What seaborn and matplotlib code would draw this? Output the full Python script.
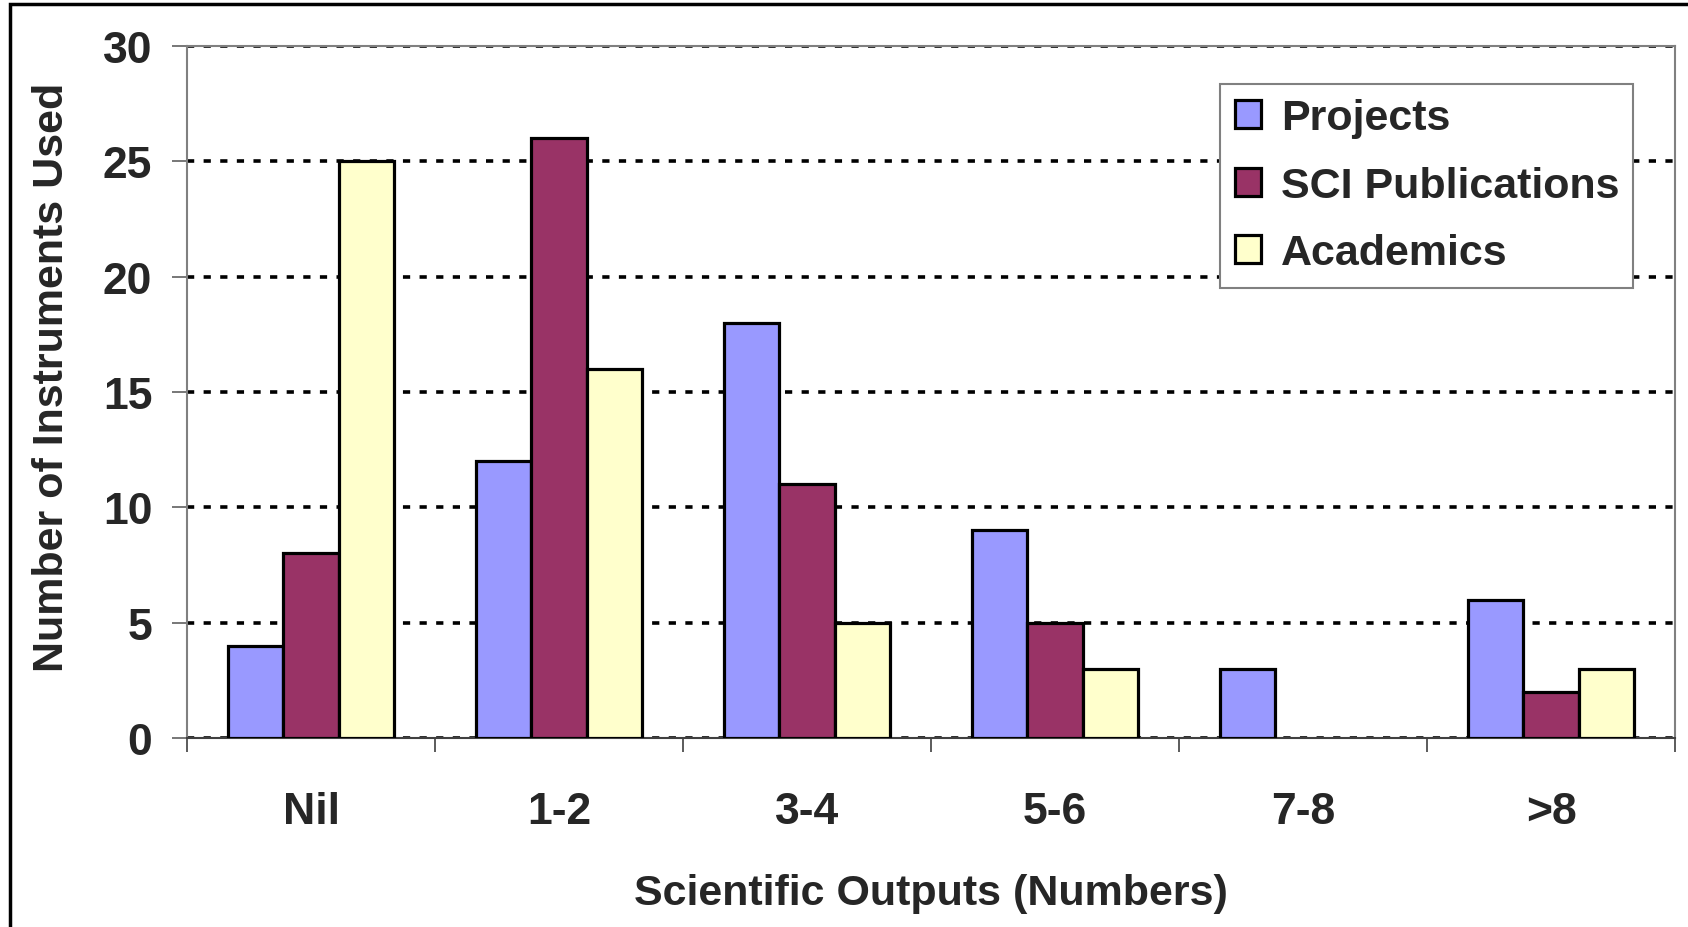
import matplotlib
matplotlib.use("Agg")
import matplotlib.pyplot as plt
from matplotlib.patches import Rectangle
import seaborn as sns
import pandas as pd

categories = ["Nil", "1-2", "3-4", "5-6", "7-8", ">8"]
projects = [4, 12, 18, 9, 3, 6]
sci_publications = [8, 26, 11, 5, 0, 2]
academics = [25, 16, 5, 3, 0, 3]
series_names = ["Projects", "SCI Publications", "Academics"]
colors = ["#9999FF", "#993366", "#FFFFCC"]
y_ticks = [0, 5, 10, 15, 20, 25, 30]

rows = []
for name, vals in zip(series_names, [projects, sci_publications, academics]):
    for cat, v in zip(categories, vals):
        rows.append({"category": cat, "series": name, "value": v})
df = pd.DataFrame(rows)
# zero bars would leave a black edge line on the axis, so drop them from drawing
plot_df = df[df["value"] > 0]

sns.set_style("white")
plt.rcParams["font.family"] = ["Liberation Sans", "DejaVu Sans"]
plt.rcParams["font.weight"] = "bold"

fig = plt.figure(figsize=(16.88, 9.28), dpi=100)
ax = fig.add_axes([187 / 1688, 1 - 739 / 928, (1675 - 187) / 1688, (739 - 47) / 928])

sns.barplot(data=plot_df, x="category", y="value", hue="series", order=categories,
            hue_order=series_names, palette=colors, width=2 / 3, gap=0,
            edgecolor="black", linewidth=2.3, saturation=1, ax=ax, zorder=3)

ax.set_xlim(-0.5, len(categories) - 0.5)
ax.set_ylim(0, 30)
ax.set_yticks(y_ticks)
ax.yaxis.grid(True, color="black", linestyle=(0, (2, 2.6)), linewidth=2.6)
ax.set_axisbelow(True)

for side in ["left", "right", "top"]:
    ax.spines[side].set_color("#808080")
    ax.spines[side].set_linewidth(1.5)
ax.spines["bottom"].set_color("#404040")
ax.spines["bottom"].set_linewidth(1.5)

ax.set_xticks([i - 0.5 for i in range(len(categories) + 1)], minor=True)
ax.tick_params(axis="x", which="minor", length=10, width=1.2, color="#404040", direction="out")
ax.tick_params(axis="x", which="major", length=0, pad=38, labelsize=32)
ax.tick_params(axis="y", length=11, width=1.2, color="#606060", direction="out", pad=14, labelsize=32)
ax.tick_params(left=True, bottom=False, which="major")
ax.tick_params(axis="x", which="minor", bottom=True)
for lbl in ax.get_xticklabels() + ax.get_yticklabels():
    lbl.set_fontweight("bold")

ax.set_xlabel("Scientific Outputs (Numbers)", fontsize=31, fontweight="bold", labelpad=30)
ax.set_ylabel("Number of Instruments Used", fontsize=31, fontweight="bold")
ax.yaxis.set_label_coords(-0.077, 0.523)

handles, labels = ax.get_legend_handles_labels()
leg = ax.legend(handles, labels, loc="upper right", bbox_to_anchor=(0.972, 0.945),
                fontsize=31, frameon=True, fancybox=False, edgecolor="#808080",
                framealpha=1, handlelength=0.62, handleheight=0.62, handletextpad=0.45,
                labelspacing=0.64, borderpad=0.33, borderaxespad=0)
leg.get_frame().set_linewidth(1.5)
leg.set_zorder(5)
for t in leg.get_texts():
    t.set_fontweight("bold")

fig.patches.append(Rectangle((10 / 1688, -0.1), 1.2, 1 - 5 / 928 + 0.1,
                             transform=fig.transFigure, fill=False,
                             edgecolor="black", linewidth=2.5))

fig.savefig("out.png", dpi=100)
